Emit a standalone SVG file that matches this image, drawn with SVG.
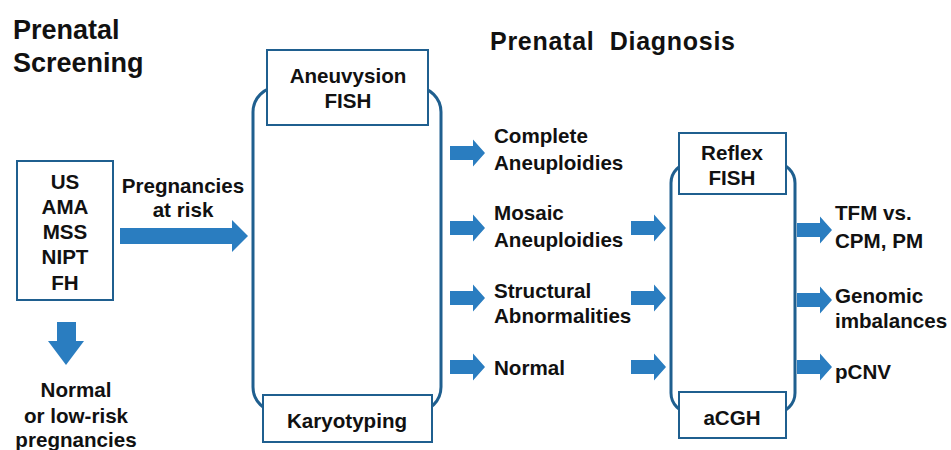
<svg xmlns="http://www.w3.org/2000/svg" width="951" height="450" viewBox="0 0 951 450">
<defs>
<style>
text{font-family:"Liberation Sans",Arial,sans-serif;font-weight:bold;fill:#111;}
.t{font-size:27px;}
.h{font-size:25px;}
.l{font-size:20.6px;}
.c{text-anchor:middle;}
.box{fill:#fff;stroke:#1f5f8f;stroke-width:2;}
.cap{fill:#fff;stroke:#1f5f8f;stroke-width:3;}
.arr{fill:#2a7dc0;}
</style>
<path id="sa" d="M0,-7 H23 V-13.5 L35,0 L23,13.5 V7 H0 Z"/>
</defs>
<rect width="951" height="450" fill="#fff"/>
<text class="t" x="13" y="39">Prenatal</text>
<text class="t" x="13" y="72">Screening</text>
<text class="h" x="490" y="50" textLength="245" xml:space="preserve">Prenatal  Diagnosis</text>

<g id="capsules">
<rect class="cap" x="253" y="87" width="188" height="325" rx="25"/>
<rect class="cap" x="671" y="163" width="124" height="250" rx="20"/>
</g>

<g id="screening">
<rect class="box" x="17" y="161" width="96" height="139"/>
<text class="l c" x="65" y="189">US</text>
<text class="l c" x="65" y="214">AMA</text>
<text class="l c" x="65" y="239">MSS</text>
<text class="l c" x="65" y="264">NIPT</text>
<text class="l c" x="65" y="290">FH</text>
</g>
<g id="at-risk-label">
<text class="l c" x="183" y="193">Pregnancies</text>
<text class="l c" x="183" y="217">at risk</text>
</g>
<g id="low-risk">
<text class="l c" x="76" y="397">Normal</text>
<text class="l c" x="76" y="423">or low-risk</text>
<text class="l c" x="76" y="447">pregnancies</text>
</g>

<g id="aneuvysion">
<rect class="box" x="267" y="50" width="161" height="75"/>
<text class="l c" x="348" y="83">Aneuvysion</text>
<text class="l c" x="348" y="108">FISH</text>
</g>
<g id="karyotyping">
<rect class="box" x="263" y="395" width="169" height="47"/>
<text class="l c" x="347" y="428">Karyotyping</text>
</g>

<g id="results">
<text class="l" x="494" y="143">Complete</text>
<text class="l" x="494" y="170">Aneuploidies</text>
<text class="l" x="494" y="220">Mosaic</text>
<text class="l" x="494" y="247">Aneuploidies</text>
<text class="l" x="494" y="298">Structural</text>
<text class="l" x="494" y="323">Abnormalities</text>
<text class="l" x="494" y="375">Normal</text>
</g>

<g id="reflex">
<rect class="box" x="679" y="133" width="107" height="61"/>
<text class="l c" x="732" y="160">Reflex</text>
<text class="l c" x="732" y="185">FISH</text>
</g>
<g id="acgh">
<rect class="box" x="679" y="392" width="107" height="46"/>
<text class="l c" x="732" y="425">aCGH</text>
</g>

<g id="outcomes">
<text class="l" x="835" y="220">TFM vs.</text>
<text class="l" x="835" y="248">CPM, PM</text>
<text class="l" x="835" y="303">Genomic</text>
<text class="l" x="835" y="328">imbalances</text>
<text class="l" x="835" y="379">pCNV</text>
</g>

<g id="connectors" class="arr">
<path d="M120,228 H232 V220 L248,236 L232,252 V244 H120 Z"/>
<path d="M57,322 H76 V341 H84 L66,365 L48,341 H57 Z"/>
<use href="#sa" x="450" y="153"/>
<use href="#sa" x="450" y="228"/>
<use href="#sa" x="450" y="298"/>
<use href="#sa" x="450" y="367"/>
<use href="#sa" x="631" y="228"/>
<use href="#sa" x="631" y="298"/>
<use href="#sa" x="631" y="367"/>
<use href="#sa" x="797" y="230"/>
<use href="#sa" x="797" y="300"/>
<use href="#sa" x="797" y="367"/>
</g>
</svg>
